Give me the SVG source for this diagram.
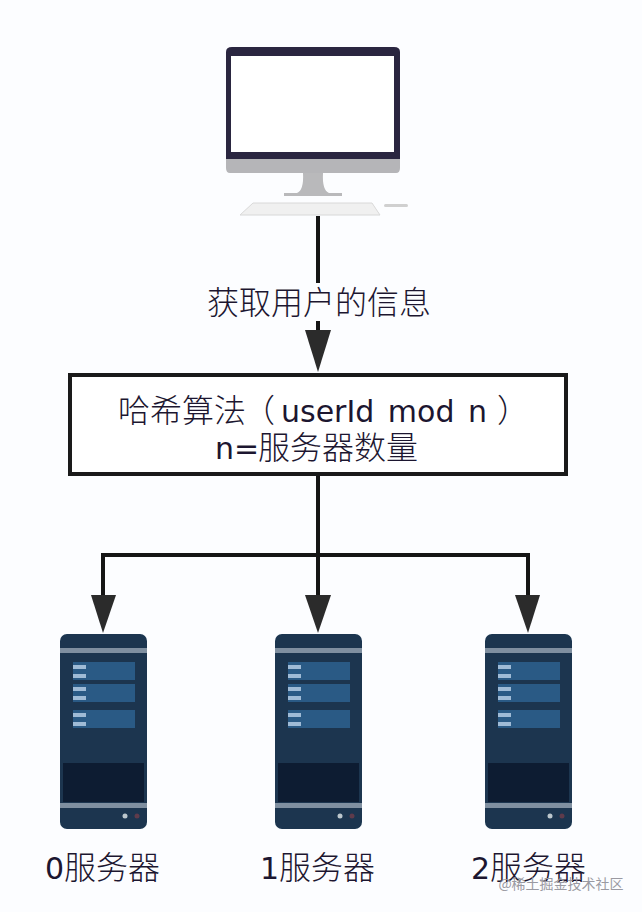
<svg xmlns="http://www.w3.org/2000/svg" xmlns:xlink="http://www.w3.org/1999/xlink" width="642" height="912" viewBox="0 0 642 912">
<style>
.t{font-family:"Noto Sans CJK SC","Liberation Sans",sans-serif;fill:#1c1630;font-size:32px;font-weight:300}
.n{font-family:"DejaVu Sans","Noto Sans CJK SC",sans-serif;font-size:30px;font-weight:400}
.c{fill:none;stroke:#151515;stroke-width:4}
.a{fill:#2b2b2b}
</style>
<defs>
<filter id="soft" x="-5%" y="-5%" width="110%" height="110%"><feGaussianBlur stdDeviation="0.6"/></filter>
<g id="srv">
<rect x="0" y="0" width="87" height="195" rx="7" fill="#1b3650"/>
<rect x="0" y="14" width="87" height="5" fill="#7f8fa0"/>
<rect x="13" y="28" width="62" height="18" fill="#2c5a85"/>
<rect x="13" y="50" width="62" height="18" fill="#2c5a85"/>
<rect x="13" y="76" width="62" height="18" fill="#2c5a85"/>
<g fill="#9fbbd6">
<rect x="13" y="31" width="13" height="4"/><rect x="13" y="40" width="13" height="4"/>
<rect x="13" y="53" width="13" height="4"/><rect x="13" y="62" width="13" height="4"/>
<rect x="13" y="79" width="13" height="4"/><rect x="13" y="88" width="13" height="4"/>
</g>
<rect x="3" y="129" width="81" height="39" fill="#0f1f33"/>
<rect x="0" y="169" width="87" height="5" fill="#7f8fa0"/>
<circle cx="65" cy="182" r="2.5" fill="#bcc6cc"/>
<circle cx="77" cy="182" r="2.5" fill="#5f3a4c"/>
</g>
</defs>
<rect width="642" height="912" fill="#fcfdff"/>
<g id="connectors">
<path class="c" d="M318 216V336"/>
<path class="c" d="M318 476V600"/>
<path class="c" d="M103 600V555H528V600"/>
<path class="a" d="M305 330H331L318 372Z"/>
<path class="a" d="M91 595H116L103 633Z"/>
<path class="a" d="M305 595H331L318 633Z"/>
<path class="a" d="M515 595H540L528 633Z"/>
</g>
<g id="computer" filter="url(#soft)">
<path d="M226 52Q226 47 232 47H394Q400 47 400 52V159H226Z" fill="#2a2540"/>
<rect x="231" y="56" width="163" height="96" fill="#fff"/>
<path d="M226 159H400V168Q400 173 396 173H230Q226 173 226 168Z" fill="#b5b5b8"/>
<path d="M303 173H323Q322 190 329 193H342V196H284V193H297Q304 190 303 173Z" fill="#b9b9bb"/>
<path d="M253 203H372L380 215H240Z" fill="#f0f0f0" stroke="#d8d8d8"/>
<rect x="384" y="204" width="24" height="3" rx="1.5" fill="#d0d0d0"/>
</g>
<g id="label-get"><rect x="204" y="283" width="232" height="38" fill="#fcfdff"/><text class="t" x="207" y="314">获取用户的信息</text></g>
<g id="hash">
<rect x="70" y="375" width="496" height="99" fill="#fff" stroke="#1a1a1a" stroke-width="4"/>
<text class="t" y="422"><tspan x="118">哈希算法</tspan><tspan x="243">（</tspan><tspan class="n" x="281" word-spacing="4">userId mod n</tspan><tspan x="497">）</tspan></text>
<text class="t" y="459"><tspan class="n" x="215">n=</tspan><tspan x="258">服务器数量</tspan></text>
</g>
<g id="server0"><use xlink:href="#srv" href="#srv" x="60" y="634" filter="url(#soft)"/><text class="t" y="879"><tspan class="n" x="45">0</tspan><tspan x="64">服务器</tspan></text></g>
<g id="server1"><use xlink:href="#srv" href="#srv" x="275" y="634" filter="url(#soft)"/><text class="t" y="879"><tspan class="n" x="260">1</tspan><tspan x="279">服务器</tspan></text></g>
<g id="server2"><use xlink:href="#srv" href="#srv" x="485" y="634" filter="url(#soft)"/><text class="t" y="879"><tspan class="n" x="471">2</tspan><tspan x="490">服务器</tspan></text></g>
<text x="561" y="889" text-anchor="middle" font-size="14" fill="#9a9aa2" font-family="Noto Sans CJK SC,Liberation Sans,sans-serif">@稀土掘金技术社区</text>
</svg>
